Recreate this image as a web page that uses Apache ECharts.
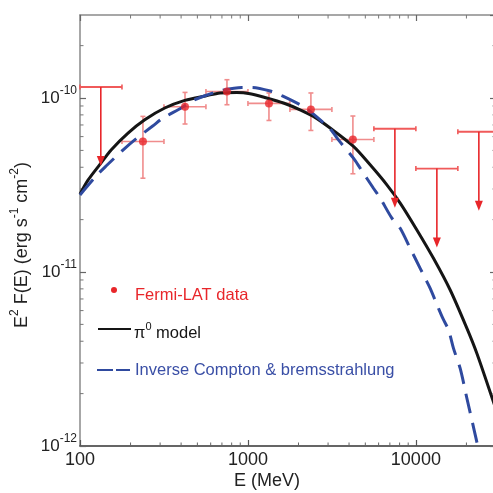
<!DOCTYPE html>
<html>
<head>
<meta charset="utf-8">
<script src="https://cdn.jsdelivr.net/npm/echarts@6/dist/echarts.min.js"></script>
<style>
html,body{margin:0;padding:0;background:#fff;overflow:hidden;}
#chart{width:493px;height:493px;}
</style>
</head>
<body>
<div id="chart"></div>
<script>
// ---- Data ----
const X_MIN = 100, X_MAX = 30000;
const Y_MIN = 1e-12, Y_MAX = 3e-10;

// Fermi-LAT data points
const pointE    = [237, 422, 750, 1334, 2371, 4217];
const pointELo  = [177.8, 316.2, 562.3, 1000, 1778, 3162];
const pointEHi  = [316.2, 562.3, 1000, 1778, 3162, 5623];
const pointF    = [5.63e-11, 8.91e-11, 1.091e-10, 9.31e-11, 8.6e-11, 5.78e-11];
const pointFLo  = [3.46e-11, 7.09e-11, 9.15e-11, 7.43e-11, 6.51e-11, 3.67e-11];
const pointFHi  = [7.84e-11, 1.077e-10, 1.274e-10, 1.069e-10, 1.069e-10, 7.88e-11];

// Upper limits
const ulE   = [133, 7499, 13335, 23714];
const ulELo = [100, 5623, 10000, 17783];
const ulEHi = [177.8, 10000, 17783, 31623];
const ulF   = [1.157e-10, 6.66e-11, 3.93e-11, 6.4e-11];

// pi0 model curve
const piE = [100, 111.6, 131.1, 153.7, 193.2, 243, 319.7, 420.6, 565.5, 682.3, 858.2, 1030, 1295, 1627, 2045, 2455, 3086, 4249, 5342, 6718, 8065, 10140, 12730, 16010, 20140, 23090, 28750, 30000];
const piF = [2.8e-11, 3.37e-11, 4.14e-11, 5.05e-11, 6.29e-11, 7.50e-11, 8.76e-11, 9.69e-11, 1.031e-10, 1.069e-10, 1.077e-10, 1.059e-10, 1.0e-10, 9.36e-11, 8.56e-11, 7.84e-11, 6.72e-11, 5.27e-11, 4.13e-11, 3.17e-11, 2.49e-11, 1.745e-11, 1.199e-11, 7.88e-12, 4.74e-12, 3.40e-12, 1.833e-12, 1.62e-12];

// Inverse Compton & bremsstrahlung curve
const icE = [100, 125, 143.5, 182.9, 211.8, 272.2, 312.2, 401.3, 471.3, 578.8, 698.5, 919.2, 1054, 1387, 1591, 2094, 2346, 3086, 3458, 4249, 4658, 5590, 6130, 7194, 8065, 9247, 9904, 11360, 12170, 13640, 14480, 15650, 16750, 18360, 20140, 22250, 23340, 23800];
const icF = [2.77e-11, 3.57e-11, 4.08e-11, 5.09e-11, 5.75e-11, 6.93e-11, 7.67e-11, 8.76e-11, 9.69e-11, 1.045e-10, 1.106e-10, 1.151e-10, 1.151e-10, 1.091e-10, 1.031e-10, 9.03e-11, 8.37e-11, 6.63e-11, 5.75e-11, 4.51e-11, 3.95e-11, 3.03e-11, 2.66e-11, 2.04e-11, 1.785e-11, 1.369e-11, 1.199e-11, 9.20e-12, 8.05e-12, 6.18e-12, 5.41e-12, 4.64e-12, 3.64e-12, 2.79e-12, 1.875e-12, 1.231e-12, 1.0e-12, 0.9e-12];

// Tick values
const xMinorTicks = [200,300,400,500,600,700,800,900,2000,3000,4000,5000,6000,7000,8000,9000,20000];
const yMinorTicks = [2e-12,3e-12,4e-12,5e-12,6e-12,7e-12,8e-12,9e-12,2e-11,3e-11,4e-11,5e-11,6e-11,7e-11,8e-11,9e-11,2e-10];

// Text
const xTitle = 'E (MeV)';
const yTitle = 'E{s|2} F(E) (erg s{s|-1} cm{s|-2})';
const legendTexts = ['Fermi-LAT data', 'π{s|0} model', 'Inverse Compton & bremsstrahlung'];

// ---- Styles ----
const FONT = "'Liberation Sans', Arial, Helvetica, sans-serif";
const RED = '#e8262a';
const PINK = '#f08c8c';
const BLUE = '#2f4a9f';
const AXIS_GRAY = '#8a8a8a';
const ARROW_LEN = 79;

const chart = echarts.init(document.getElementById('chart'), null, {renderer: 'canvas'});

function isPow10(v) {
  const e = Math.round(Math.log10(v));
  return Math.abs(Math.log10(v) - e) < 1e-6 ? e : null;
}

const errData = pointE.map((e, i) => [e, pointF[i], pointELo[i], pointEHi[i], pointFLo[i], pointFHi[i]]);
const ulData = ulE.map((e, i) => [e, ulF[i], ulELo[i], ulEHi[i]]);
const scatterData = pointE.map((e, i) => [e, pointF[i]]);
const piData = piE.map((e, i) => [e, piF[i]]);
const icData = icE.map((e, i) => [e, icF[i]]);

function hLine(x1, x2, y, stroke, w) {
  return {type: 'line', shape: {x1: x1, y1: y, x2: x2, y2: y}, style: {stroke: stroke, lineWidth: w}};
}
function vLine(x, y1, y2, stroke, w) {
  return {type: 'line', shape: {x1: x, y1: y1, x2: x, y2: y2}, style: {stroke: stroke, lineWidth: w}};
}

const axisLineGray = {show: true, lineStyle: {color: AXIS_GRAY, width: 1.5}};

const option = {
  animation: false,
  backgroundColor: '#fff',
  grid: {left: 80, top: 15, width: 416, height: 431, containLabel: false, outerBoundsMode: 'none'},
  xAxis: [{
    type: 'log', logBase: 10, min: X_MIN, max: X_MAX, position: 'bottom',
    axisLine: {show: true, lineStyle: {color: '#333', width: 1.5}},
    axisTick: {show: true, inside: true, length: 6, lineStyle: {color: '#555', width: 1.2}},
    axisLabel: {
      show: true, margin: 5, color: '#222', fontSize: 18, fontFamily: FONT,
      showMaxLabel: false,
      formatter: function (v) { const e = isPow10(v); return e === null ? '' : String(Math.round(Math.pow(10, e))); }
    },
    splitLine: {show: false}, minorTick: {show: false}
  }, {
    type: 'log', logBase: 10, min: X_MIN, max: X_MAX, position: 'top',
    axisLine: axisLineGray,
    axisTick: {show: true, inside: true, length: 6, lineStyle: {color: '#666', width: 1.2}},
    axisLabel: {show: false}, splitLine: {show: false}
  }],
  yAxis: [{
    type: 'log', logBase: 10, min: Y_MIN, max: Y_MAX, position: 'left',
    axisLine: axisLineGray,
    axisTick: {show: true, inside: true, length: 6, lineStyle: {color: '#666', width: 1.2}},
    axisLabel: {
      show: true, margin: 3, color: '#222', fontFamily: FONT, showMaxLabel: false,
      formatter: function (v) { const e = isPow10(v); return e === null ? '' : '{b|10}{s|' + e + '}'; },
      rich: {
        b: {fontSize: 17, lineHeight: 26, fontFamily: FONT, color: '#222'},
        s: {fontSize: 12, lineHeight: 12, verticalAlign: 'top', fontFamily: FONT, color: '#222'}
      }
    },
    splitLine: {show: false}
  }, {
    type: 'log', logBase: 10, min: Y_MIN, max: Y_MAX, position: 'right',
    axisLine: axisLineGray,
    axisTick: {show: true, inside: true, length: 6, lineStyle: {color: '#666', width: 1.2}},
    axisLabel: {show: false}, splitLine: {show: false}
  }],
  series: [
    {
      type: 'custom', xAxisIndex: 0, yAxisIndex: 0, silent: true, z: 1,
      data: xMinorTicks.map(v => [v, Y_MIN]),
      renderItem: function (params, api) {
        const b = api.coord([api.value(0), Y_MIN]);
        const t = api.coord([api.value(0), Y_MAX]);
        return {type: 'group', children: [
          vLine(b[0], b[1], b[1] - 3.5, '#666', 1),
          vLine(t[0], t[1], t[1] + 3.5, '#777', 1)
        ]};
      }
    },
    {
      type: 'custom', xAxisIndex: 0, yAxisIndex: 0, silent: true, z: 1,
      data: yMinorTicks.map(v => [X_MIN, v]),
      renderItem: function (params, api) {
        const l = api.coord([X_MIN, api.value(1)]);
        const r = api.coord([X_MAX, api.value(1)]);
        return {type: 'group', children: [
          hLine(l[0], l[0] + 3.5, l[1], '#777', 1),
          hLine(r[0], r[0] - 3.5, r[1], '#777', 1)
        ]};
      }
    },
    {
      type: 'custom', xAxisIndex: 0, yAxisIndex: 0, silent: true, z: 2,
      data: errData,
      renderItem: function (params, api) {
        const c = api.coord([api.value(0), api.value(1)]);
        const xl = api.coord([api.value(2), api.value(1)])[0];
        const xh = api.coord([api.value(3), api.value(1)])[0];
        const yl = api.coord([api.value(0), api.value(4)])[1];
        const yh = api.coord([api.value(0), api.value(5)])[1];
        const w = 1.6, cap = 2.5;
        return {type: 'group', children: [
          hLine(xl, xh, c[1], PINK, w),
          vLine(xl, c[1] - cap, c[1] + cap, PINK, w),
          vLine(xh, c[1] - cap, c[1] + cap, PINK, w),
          vLine(c[0], yl, yh, PINK, w),
          hLine(c[0] - cap, c[0] + cap, yl, PINK, w),
          hLine(c[0] - cap, c[0] + cap, yh, PINK, w)
        ]};
      }
    },
    {
      name: 'pi0', type: 'line', xAxisIndex: 0, yAxisIndex: 0, z: 3,
      data: piData, showSymbol: false, symbol: 'none', smooth: 0.3, clip: true,
      lineStyle: {color: '#151515', width: 3}
    },
    {
      name: 'IC', type: 'line', xAxisIndex: 0, yAxisIndex: 0, z: 4,
      data: icData, showSymbol: false, symbol: 'none', smooth: 0.3, clip: true,
      lineStyle: {color: BLUE, width: 3, type: [20, 10]}
    },
    {
      type: 'custom', xAxisIndex: 0, yAxisIndex: 0, silent: true, z: 5,
      data: ulData,
      renderItem: function (params, api) {
        const c = api.coord([api.value(0), api.value(1)]);
        const xl = api.coord([api.value(2), api.value(1)])[0];
        const xh = api.coord([api.value(3), api.value(1)])[0];
        const tip = c[1] + ARROW_LEN;
        const cap = 2.5;
        return {type: 'group', children: [
          hLine(xl, xh, c[1], '#f05a5a', 1.8),
          vLine(xl, c[1] - cap, c[1] + cap, '#f05a5a', 1.6),
          vLine(xh, c[1] - cap, c[1] + cap, '#f05a5a', 1.6),
          vLine(c[0], c[1], tip - 8, RED, 1.6),
          {type: 'polygon', shape: {points: [[c[0] - 4, tip - 10], [c[0] + 4, tip - 10], [c[0], tip]]}, style: {fill: RED}}
        ]};
      }
    },
    {
      name: 'Fermi-LAT data', type: 'scatter', xAxisIndex: 0, yAxisIndex: 0, z: 6,
      data: scatterData, symbol: 'circle', symbolSize: 8,
      itemStyle: {color: RED}
    }
  ],
  graphic: [
    {type: 'text', x: 267, y: 481, silent: true,
     style: {text: xTitle, fontSize: 18, fontFamily: FONT, fill: '#222', align: 'center', verticalAlign: 'middle'}},
    {type: 'text', x: 22, y: 245, rotation: Math.PI / 2, silent: true,
     style: {text: yTitle, fontSize: 18, lineHeight: 26, fontFamily: FONT, fill: '#222', align: 'center', verticalAlign: 'middle',
       rich: {s: {fontSize: 12, lineHeight: 12, verticalAlign: 'top', fontFamily: FONT, fill: '#222'}}}},
    {type: 'circle', shape: {cx: 114, cy: 290, r: 3}, style: {fill: RED}, silent: true},
    {type: 'text', x: 135, y: 295, silent: true,
     style: {text: legendTexts[0], fontSize: 16.5, fontFamily: FONT, fill: RED, align: 'left', verticalAlign: 'middle'}},
    {type: 'line', shape: {x1: 98, y1: 329, x2: 131, y2: 329}, style: {stroke: '#151515', lineWidth: 2}, silent: true},
    {type: 'text', x: 134, y: 333, silent: true,
     style: {text: legendTexts[1], fontSize: 16.5, lineHeight: 24, fontFamily: FONT, fill: '#151515', align: 'left', verticalAlign: 'middle',
       rich: {s: {fontSize: 11, lineHeight: 11, verticalAlign: 'top', fontFamily: FONT, fill: '#151515'}}}},
    {type: 'line', shape: {x1: 97, y1: 370, x2: 113, y2: 370}, style: {stroke: BLUE, lineWidth: 2}, silent: true},
    {type: 'line', shape: {x1: 116, y1: 370, x2: 130, y2: 370}, style: {stroke: BLUE, lineWidth: 2}, silent: true},
    {type: 'text', x: 135, y: 370, silent: true,
     style: {text: legendTexts[2], fontSize: 16.5, fontFamily: FONT, fill: '#3a4fa6', align: 'left', verticalAlign: 'middle'}}
  ]
};

chart.setOption(option);
</script>
</body>
</html>
